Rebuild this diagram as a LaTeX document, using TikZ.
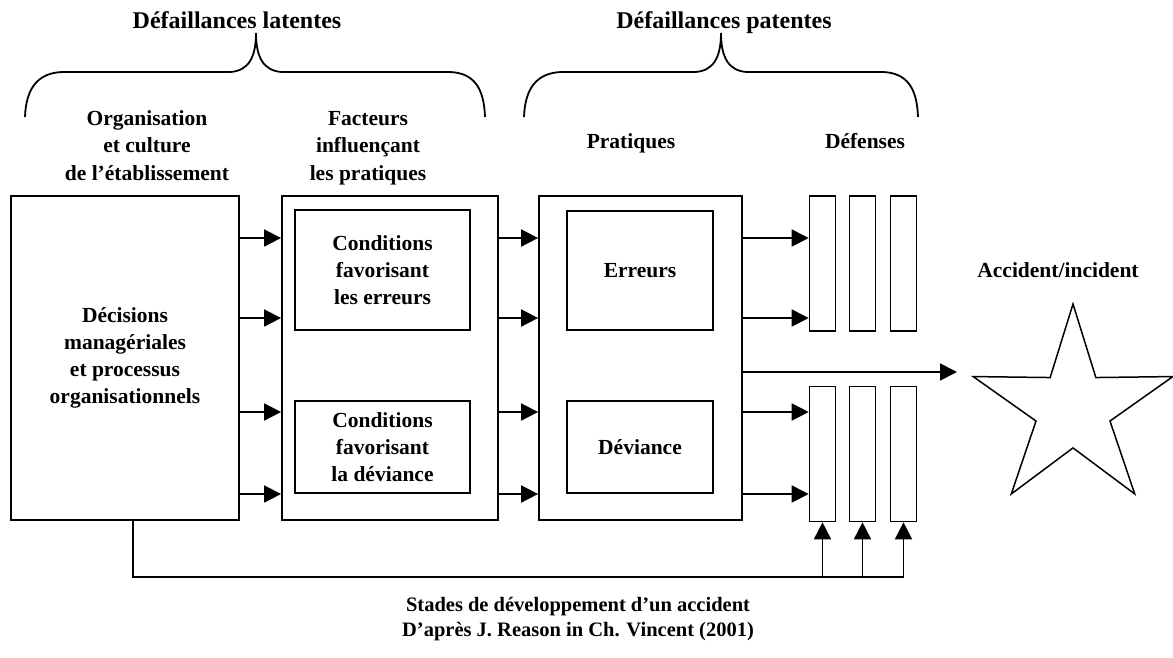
\documentclass[tikz,border=0pt]{standalone}
\usepackage{fontspec}
\setmainfont{Liberation Serif}
\usetikzlibrary{arrows.meta, shapes.geometric, positioning}

\tikzset{
    trait/.style={line width=1.8pt},
    box/.style={draw, line width=1.8pt, align=center, inner sep=0pt,
        font=\fontsize{21.5}{27}\selectfont\bfseries},
    inbox/.style={box, line width=1.5pt},
    bar/.style={draw, line width=1.6pt, minimum width=26pt, minimum height=135pt, inner sep=0pt},
    arr/.style={trait, -{Triangle[length=17pt, width=17pt]}},
    head/.style={align=center, anchor=base, inner sep=0pt,
        font=\fontsize{21.5}{27.5}\selectfont\bfseries},
    titre/.style={head, font=\fontsize{24}{28}\selectfont\bfseries},
    legende/.style={head, font=\fontsize{20.5}{25}\selectfont\bfseries}
}

\begin{document}
\begin{tikzpicture}[x=1pt, y=-1pt]
    \useasboundingbox (0,0) rectangle (1173,657);

    % accolades
    \draw[trait] (25,117) .. controls (26,88) and (38,73) .. (62,72) -- (230,72) .. controls (248,71) and (256,58) .. (256,33)
        .. controls (256,58) and (264,71) .. (282,72) -- (450,72) .. controls (474,73) and (484,88) .. (485,117);
    \draw[trait] (524,117) .. controls (525,88) and (537,73) .. (561,72) -- (695,72) .. controls (713,71) and (721,58) .. (721,33)
        .. controls (721,58) and (729,71) .. (747,72) -- (883,72) .. controls (907,73) and (917,88) .. (918,117);
    \node[titre] (latent) at (237,28) {Défaillances latentes};
    \node[titre] (patent) at (724,28) {Défaillances patentes};

    % en-tetes (base = derniere ligne)
    \node[head] (hOrg) at (147,180) {Organisation\\et culture\\de l’établissement};
    \node[head] (hFact) at (368,180) {Facteurs\\influençant\\les pratiques};
    \node[head] (hPrat) at (631,148) {Pratiques};
    \node[head] (hDef) at (865,148) {Défenses};

    % blocs
    \node[box, minimum width=228pt, minimum height=324pt] (org) at (125,358) {Décisions\\managériales\\et processus\\organisationnels};
    \node[box, minimum width=216pt, minimum height=324pt] (fact) at (390,358) {};
    \node[inbox, minimum width=175pt, minimum height=120pt] (cErr) at (382.5,270) {Conditions\\favorisant\\les erreurs};
    \node[inbox, minimum width=175pt, minimum height=92pt] (cDev) at (382.5,447) {Conditions\\favorisant\\la déviance};
    \node[box, minimum width=203pt, minimum height=324pt] (prat) at (640.5,358) {};
    \node[inbox, minimum width=146pt, minimum height=119pt] (err) at (640,270.5) {Erreurs};
    \node[inbox, minimum width=146pt, minimum height=92pt] (dev) at (640,447) {Déviance};

    % defenses
    \foreach \i/\x in {1/822.5, 2/862.5, 3/903.5} {
        \node[bar] (barH\i) at (\x,263.5) {};
        \node[bar] (barB\i) at (\x,454) {};
    }

    % accident
    \node[draw, star, star points=5, star point ratio=2.7, minimum size=210pt, inner sep=0pt, line width=1.5pt] (acc) at (1073,409) {};
    \node[head] (accLbl) at (1058,277) {Accident/incident};

    % fleches
    \coordinate (rA) at (0,238);
    \coordinate (rB) at (0,318);
    \coordinate (rC) at (0,412);
    \coordinate (rD) at (0,494);
    \foreach \r in {rA,rB,rC,rD} {
        \draw[arr] (org.east |- \r) -- (fact.west |- \r);
        \draw[arr] (fact.east |- \r) -- (prat.west |- \r);
    }
    \foreach \r/\b in {rA/barH1, rB/barH1, rC/barB1, rD/barB1}
        \draw[arr] (prat.east |- \r) -- (\b.west |- \r);
    \coordinate (hit) at (957,372);
    \draw[arr] (prat.east |- hit) -- (hit);

    % retour
    \coordinate (fb) at (0,577);
    \draw[trait] ([xshift=8pt]org.south) |- (barB3.south |- fb);
    \foreach \i in {1,2,3}
        \draw[arr] (barB\i.south |- fb) -- (barB\i.south);

    \node[legende] (cap1) at (578,611) {Stades de développement d’un accident};
    \node[legende] (cap2) at (578,636) {D’après J. Reason in Ch. Vincent (2001)};
\end{tikzpicture}
\end{document}
